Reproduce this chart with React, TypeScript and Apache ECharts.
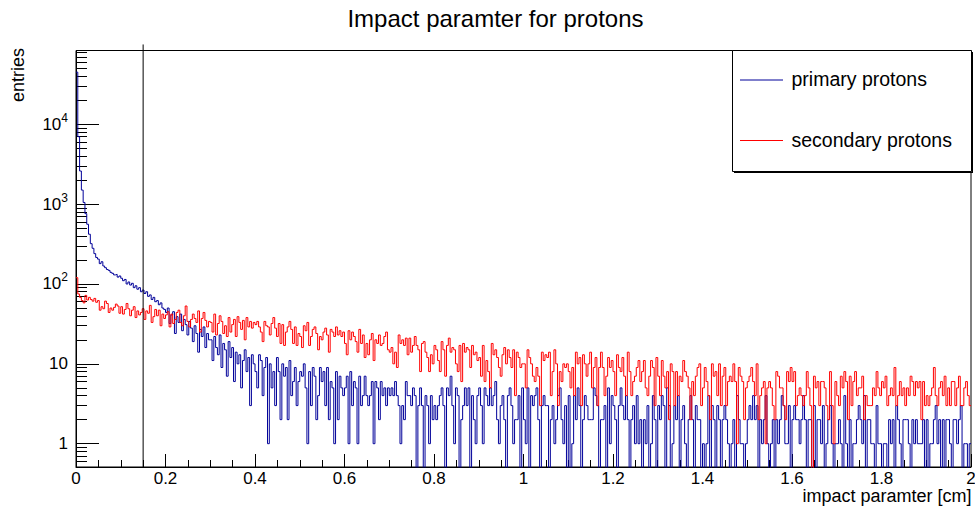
import React, { useEffect, useRef } from 'react';
import * as echarts from 'echarts';

const TITLE = 'Impact paramter for protons';
const X_NAME = 'impact paramter [cm]';
const Y_NAME = 'entries';
const SERIES_NAMES = ['primary protons', 'secondary protons'];
const SERIES_COLORS = ['#000099', '#ff0000'];

const X_MIN = 0;
const X_MAX = 2;
const X_INTERVAL = 0.2;
const BIN_WIDTH = 0.004;
const Y_MIN = 0.5106;
const Y_MAX = 84000;
const Y_MAJOR = [1, 10, 100, 1000, 10000];
const Y_MINOR_MULT = [2, 3, 4, 5, 6, 7, 8, 9];
const Y_DECADES = [0.1, 1, 10, 100, 1000, 10000];
const CUT_X = 0.15;
const CUT_TOP = 100000;

// primary protons, 500 bins of 0.004 cm (25 bins = 0.1 cm per row)
const PRIMARY = [
  45000, 7000, 2600, 1500, 1050, 760, 560, 420, 320, 280, 240, 215, 205, 180, 190, 168, 160, 152, 148, 140, 136, 130, 132, 122, 126,
  118, 110, 114, 100, 106, 97, 102, 90, 95, 86, 90, 80, 84, 76, 80, 70, 73, 64, 68, 60, 62, 55, 58, 50, 48,
  44, 50, 32, 41, 45, 24, 39, 33, 42, 26, 36, 31, 23, 34, 28, 19, 30, 24, 14, 27, 22, 29, 16, 24, 20,
  20, 11, 22, 16, 13, 23, 9, 18, 15, 7, 19, 12, 16, 6, 14, 10, 13, 5, 11, 15, 8, 12, 3, 13, 10,
  8, 5, 13, 11, 4, 9, 12, 1, 10, 5, 8, 3, 12, 8, 2, 10, 7, 9, 2, 11, 4, 6, 9, 3, 6,
  8, 7, 10, 5, 1, 8, 3, 9, 7, 2, 4, 9, 6, 8, 3, 9, 2, 6, 5, 1, 8, 2, 7, 5, 4,
  5, 7, 1, 8, 3, 6, 5, 1, 7, 3, 4, 7, 4, 3, 4, 6, 1, 6, 5, 2, 6, 4, 5, 3, 5,
  4, 5, 4, 6, 4, 3, 1, 3, 2, 6, 4, 4, 3, 5, 4, 0, 3, 5, 3, 0, 4, 3, 1, 4, 2,
  3, 2, 3, 4, 5, 3, 0, 5, 4, 7, 3, 1, 5, 4, 0, 2, 3, 5, 3, 5, 0, 4, 2, 1, 4,
  5, 3, 1, 5, 4, 3, 5, 3, 4, 6, 2, 1, 3, 4, 2, 0, 4, 5, 3, 1, 2, 2, 4, 0, 5,
  2, 1, 5, 0, 4, 3, 4, 5, 2, 0, 3, 4, 3, 3, 0, 2, 3, 1, 2, 4, 5, 2, 1, 3, 0,
  4, 0, 1, 4, 2, 5, 3, 0, 2, 4, 3, 2, 2, 2, 5, 4, 3, 0, 2, 2, 3, 0, 5, 1, 4,
  3, 2, 0, 3, 5, 3, 2, 4, 2, 0, 2, 3, 1, 4, 1, 2, 0, 2, 1, 3, 0, 1, 4, 2, 0,
  3, 2, 4, 3, 0, 5, 3, 0, 1, 3, 2, 4, 0, 2, 3, 1, 0, 2, 4, 2, 0, 3, 2, 2, 0,
  1, 0, 1, 4, 0, 3, 2, 0, 3, 2, 0, 2, 3, 2, 1, 0, 1, 2, 0, 4, 2, 1, 1, 0, 1,
  2, 3, 2, 4, 2, 3, 0, 2, 1, 2, 4, 1, 0, 1, 2, 0, 2, 1, 2, 4, 3, 1, 1, 3, 0,
  2, 3, 2, 2, 1, 2, 4, 2, 0, 2, 2, 0, 3, 0, 2, 2, 1, 3, 0, 1, 2, 3, 1, 0, 1,
  1, 2, 1, 0, 4, 1, 0, 2, 0, 1, 1, 2, 3, 2, 1, 4, 0, 2, 2, 1, 1, 0, 3, 1, 1,
  0, 1, 1, 0, 2, 1, 2, 0, 3, 2, 1, 0, 2, 2, 2, 1, 0, 2, 1, 2, 1, 1, 1, 2, 0,
  2, 0, 1, 1, 2, 3, 1, 2, 0, 2, 0, 2, 2, 1, 0, 2, 2, 1, 2, 3, 0, 1, 1, 0, 1,
];

// secondary protons, 500 bins of 0.004 cm (25 bins = 0.1 cm per row)
const SECONDARY = [
  120, 75, 68, 62, 58, 72, 63, 68, 64, 61, 66, 59, 62, 47, 52, 49, 61, 57, 44, 50, 47, 51, 56, 53, 43,
  52, 42, 48, 57, 49, 40, 47, 52, 38, 46, 41, 44, 49, 36, 46, 43, 54, 33, 39, 48, 40, 47, 30, 42, 37,
  41, 45, 29, 42, 32, 36, 44, 47, 33, 30, 40, 53, 34, 29, 36, 42, 37, 33, 46, 25, 37, 44, 35, 29, 34,
  33, 25, 42, 23, 32, 40, 34, 24, 30, 22, 38, 25, 31, 36, 22, 39, 33, 27, 35, 20, 38, 29, 34, 28, 33,
  31, 34, 29, 25, 19, 34, 30, 29, 23, 32, 38, 28, 22, 32, 18, 31, 17, 25, 29, 34, 27, 18, 29, 17, 24,
  22, 16, 30, 26, 33, 17, 22, 27, 29, 24, 15, 22, 20, 25, 28, 23, 14, 27, 25, 22, 29, 23, 26, 22, 25,
  18, 13, 26, 20, 25, 22, 19, 14, 27, 18, 23, 12, 18, 13, 20, 24, 11, 20, 18, 23, 17, 18, 22, 25, 15,
  14, 16, 10, 14, 9, 23, 18, 20, 17, 21, 13, 21, 14, 17, 22, 17, 15, 8, 18, 19, 14, 12, 8, 13, 10,
  17, 15, 11, 8, 19, 15, 7, 17, 21, 14, 16, 15, 10, 8, 17, 6, 18, 14, 16, 15, 9, 17, 13, 14, 11,
  12, 7, 17, 6, 11, 8, 5, 18, 13, 15, 12, 9, 7, 13, 16, 10, 15, 12, 9, 15, 4, 14, 12, 9, 10,
  10, 5, 15, 12, 10, 7, 6, 9, 7, 3, 14, 11, 13, 12, 14, 4, 8, 15, 10, 3, 8, 6, 10, 9, 10,
  8, 5, 9, 4, 14, 10, 12, 3, 13, 10, 7, 10, 14, 5, 9, 12, 3, 9, 14, 9, 4, 7, 12, 9, 11,
  8, 4, 13, 9, 8, 12, 7, 4, 14, 8, 4, 6, 7, 9, 11, 6, 8, 11, 5, 4, 7, 11, 9, 3, 12,
  7, 4, 11, 7, 5, 8, 2, 10, 8, 3, 8, 4, 7, 6, 11, 8, 7, 5, 2, 6, 4, 7, 9, 10, 3,
  5, 9, 6, 4, 2, 10, 7, 8, 4, 10, 3, 7, 9, 3, 6, 7, 6, 10, 6, 1, 9, 7, 6, 2, 5,
  6, 7, 9, 6, 4, 10, 2, 4, 5, 6, 1, 5, 6, 5, 3, 2, 8, 7, 5, 5, 3, 2, 8, 6, 9,
  6, 8, 3, 4, 5, 4, 3, 4, 8, 5, 3, 0, 7, 5, 6, 3, 6, 6, 5, 3, 2, 8, 3, 1, 6,
  4, 3, 7, 5, 8, 6, 2, 7, 3, 6, 8, 4, 5, 5, 7, 2, 4, 3, 3, 3, 5, 4, 8, 5, 4,
  6, 5, 7, 3, 4, 5, 4, 9, 3, 4, 6, 4, 5, 3, 5, 4, 7, 6, 4, 6, 5, 6, 2, 6, 3,
  4, 3, 4, 5, 9, 4, 3, 5, 6, 4, 7, 3, 5, 3, 6, 6, 3, 5, 7, 3, 3, 5, 6, 4, 3,
];

const FONT = '"Liberation Sans", Arial, Helvetica, sans-serif';

const toLog = (v: number) => (v > 0 ? Math.log10(v) : -2);

const stepData = (arr: number[]) => {
  const pts = arr.map((v, i) => [X_MIN + i * BIN_WIDTH, toLog(v)]);
  pts.push([X_MAX, toLog(arr[arr.length - 1])]);
  return pts;
};

export default function App() {
  const ref = useRef<HTMLDivElement>(null);

  useEffect(() => {
    if (!ref.current) return;
    const chart = echarts.init(ref.current, null, { renderer: 'svg' });
    const yMinLog = Math.log10(Y_MIN);
    const yMaxLog = Math.log10(Y_MAX);
    const majorLog = Y_MAJOR.map((v) => Math.log10(v));
    const minorLog: number[] = [];
    Y_DECADES.forEach((d) =>
      Y_MINOR_MULT.forEach((m) => {
        const l = Math.log10(m * d);
        if (l >= yMinLog && l <= yMaxLog) minorLog.push(l);
      })
    );

    const option: any = {
      animation: false,
      textStyle: { fontFamily: FONT, color: '#000' },
      grid: {
        left: 76,
        right: 4,
        top: 50.5,
        bottom: 40,
        show: true,
        borderColor: '#000',
        borderWidth: 1,
        containLabel: false,
        outerBoundsMode: 'none',
      },
      xAxis: {
        type: 'value',
        min: X_MIN,
        max: X_MAX,
        interval: X_INTERVAL,
        axisLine: { show: true, onZero: false, lineStyle: { color: '#000', width: 1 } },
        axisTick: { show: true, inside: true, length: 13, lineStyle: { color: '#000', width: 1 } },
        minorTick: { show: true, splitNumber: 4, length: 7, lineStyle: { color: '#000', width: 1 } },
        axisLabel: {
          show: true,
          color: '#000',
          fontSize: 17,
          lineHeight: 14,
          fontFamily: FONT,
          margin: 4,
          formatter: (v: number) => (Math.abs(v - Math.round(v)) < 1e-9 ? String(Math.round(v)) : v.toFixed(1)),
        },
        splitLine: { show: false },
        minorSplitLine: { show: false },
      },
      yAxis: [
        {
          type: 'value',
          min: yMinLog,
          max: yMaxLog,
          axisLine: { show: true, onZero: false, lineStyle: { color: '#000', width: 1 } },
          axisTick: {
            show: true,
            inside: true,
            length: 23,
            customValues: majorLog,
            lineStyle: { color: '#000', width: 1 },
          },
          axisLabel: {
            show: true,
            customValues: majorLog,
            color: '#000',
            fontSize: 17,
            fontFamily: FONT,
            margin: 8,
            formatter: (v: number) => {
              const e = Math.round(v);
              if (e === 0) return '1';
              if (e === 1) return '10';
              return '{b|10}{s|' + e + '}';
            },
            rich: {
              b: { fontSize: 17, fontFamily: FONT, color: '#000', lineHeight: 17, verticalAlign: 'bottom' },
              s: {
                fontSize: 12,
                fontFamily: FONT,
                color: '#000',
                lineHeight: 12,
                padding: [0, 0, 9, 0],
                verticalAlign: 'bottom',
              },
            },
          },
          splitLine: { show: false },
        },
        {
          type: 'value',
          min: yMinLog,
          max: yMaxLog,
          position: 'left',
          axisLine: { show: false },
          axisTick: {
            show: true,
            inside: true,
            length: 11,
            customValues: minorLog,
            lineStyle: { color: '#000', width: 1 },
          },
          axisLabel: { show: false },
          splitLine: { show: false },
        },
      ],
      series: [
        {
          name: SERIES_NAMES[0],
          type: 'line',
          step: 'end',
          data: stepData(PRIMARY),
          showSymbol: false,
          symbol: 'none',
          clip: true,
          lineStyle: { color: SERIES_COLORS[0], width: 1 },
          itemStyle: { color: SERIES_COLORS[0] },
          silent: true,
          z: 2,
        },
        {
          name: SERIES_NAMES[1],
          type: 'line',
          step: 'end',
          data: stepData(SECONDARY),
          showSymbol: false,
          symbol: 'none',
          clip: true,
          lineStyle: { color: SERIES_COLORS[1], width: 1 },
          itemStyle: { color: SERIES_COLORS[1] },
          silent: true,
          z: 3,
        },
        {
          name: 'cut',
          type: 'line',
          data: [
            [CUT_X, yMinLog],
            [CUT_X, Math.log10(CUT_TOP)],
          ],
          showSymbol: false,
          symbol: 'none',
          clip: false,
          lineStyle: { color: '#000', width: 1 },
          silent: true,
          z: 4,
        },
      ],
      graphic: [
        {
          type: 'text',
          x: 495.5,
          y: 18,
          style: {
            text: TITLE,
            fontSize: 24,
            fontFamily: FONT,
            fill: '#000',
            textAlign: 'center',
            textVerticalAlign: 'middle',
          },
        },
        {
          type: 'text',
          x: 18,
          y: 75,
          rotation: Math.PI / 2,
          style: {
            text: Y_NAME,
            fontSize: 18,
            fontFamily: FONT,
            fill: '#000',
            textAlign: 'center',
            textVerticalAlign: 'middle',
          },
        },
        {
          type: 'text',
          x: 971.5,
          y: 496,
          style: {
            text: X_NAME,
            fontSize: 18,
            lineHeight: 14,
            fontFamily: FONT,
            fill: '#000',
            textAlign: 'right',
            textVerticalAlign: 'middle',
          },
        },
        {
          type: 'group',
          z: 100,
          children: [
            {
              type: 'rect',
              shape: { x: 732.5, y: 50.5, width: 239, height: 121 },
              style: { fill: '#fff', stroke: '#000', lineWidth: 1 },
            },
            {
              type: 'line',
              shape: { x1: 972.5, y1: 52, x2: 972.5, y2: 172.5 },
              style: { stroke: '#000', lineWidth: 1 },
            },
            {
              type: 'line',
              shape: { x1: 734, y1: 172.5, x2: 973, y2: 172.5 },
              style: { stroke: '#000', lineWidth: 1 },
            },
            {
              type: 'line',
              shape: { x1: 740, y1: 80, x2: 783, y2: 80 },
              style: { stroke: SERIES_COLORS[0], lineWidth: 1 },
            },
            {
              type: 'text',
              x: 791.5,
              y: 79,
              style: {
                text: SERIES_NAMES[0],
                fontSize: 19.5,
                fontFamily: FONT,
                fill: '#000',
                textAlign: 'left',
                textVerticalAlign: 'middle',
              },
            },
            {
              type: 'line',
              shape: { x1: 740, y1: 140.5, x2: 783, y2: 140.5 },
              style: { stroke: SERIES_COLORS[1], lineWidth: 1 },
            },
            {
              type: 'text',
              x: 791.5,
              y: 140,
              style: {
                text: SERIES_NAMES[1],
                fontSize: 19.5,
                fontFamily: FONT,
                fill: '#000',
                textAlign: 'left',
                textVerticalAlign: 'middle',
              },
            },
          ],
        },
      ],
    };

    chart.setOption(option);
    return () => chart.dispose();
  }, []);

  return (
    <div
      ref={ref}
      style={{ position: 'fixed', left: 0, top: 0, width: 975, height: 507, background: '#fff' }}
    />
  );
}
